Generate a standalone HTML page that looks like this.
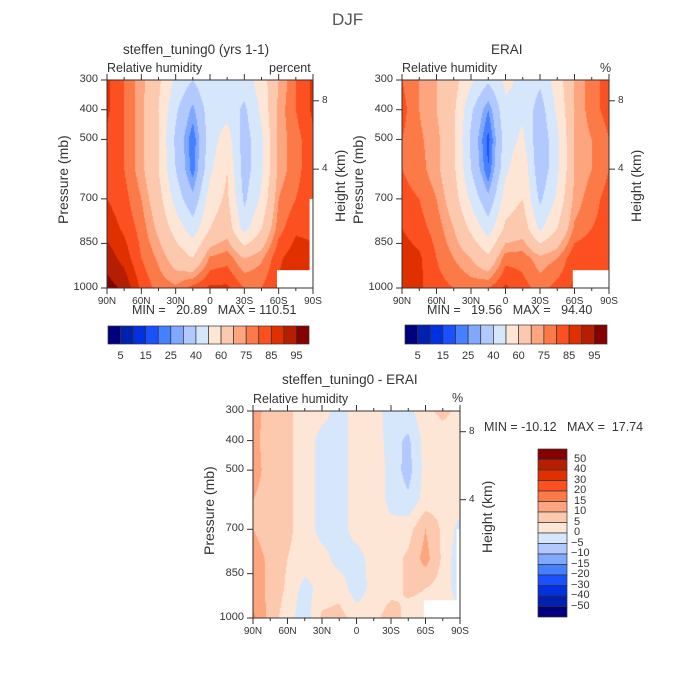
<!DOCTYPE html>
<html><head><meta charset="utf-8">
<style>
body{margin:0;background:#fff;font-family:"Liberation Sans",sans-serif;color:#333}
#root{position:relative;width:700px;height:700px;overflow:hidden}
.t{position:absolute;white-space:pre;font-size:11px;color:#333}
canvas{position:absolute}
svg{position:absolute;left:0;top:0}
</style></head><body>
<div id="root">
<div class="t" style="left:332px;top:10px;font-size:17px;color:#555">DJF</div>
<svg id="ov" width="700" height="700"></svg>
</div>
<script>
const lats=["90N","75N","60N","45N","30N","15N","0","15S","30S","45S","60S","75S","90S"];
const plevs=[300,400,500,600,700,800,900,1000];
const rhLevels=[5,10,15,20,25,30,40,50,60,70,75,80,85,90,95];
const rhLabels=[5,15,25,40,60,75,85,95];
const diffLevels=[-50,-40,-30,-20,-15,-10,-5,0,5,10,15,20,30,40,50];
const colors=["#00007f","#0020b0","#0030e0","#1a50ff","#4480ff","#80a8ff","#b2c9ff","#d6e6fb","#fee6d6","#fcc8ae","#fca57e","#fc7a48","#fc5020","#e03000","#b51e00","#860000"];
const model=[
[86,80,72,62,48,40,50,44,45,55,70,80,86],
[86,80,72,60,42,28,46,46,38,52,72,80,86],
[84,80,72,60,38,21,45,55,35,48,72,78,84],
[84,80,72,60,40,22,48,60,35,48,72,78,84],
[85,82,75,64,46,32,55,62,38,52,75,80,84],
[88,84,78,68,56,45,60,66,46,60,78,84,84],
[93,88,80,74,66,60,76,78,70,74,84,88,86],
[97,94,84,78,76,82,86,86,80,80,86,88,88]];
const erai=[
[80,75,70,64,52,42,52,48,42,55,70,78,82],
[82,75,70,62,42,25,48,48,35,52,70,78,82],
[80,76,72,62,38,18,45,52,32,48,70,75,80],
[80,77,72,62,40,20,48,58,32,48,70,75,80],
[82,80,75,65,48,32,55,60,38,52,72,78,82],
[85,82,78,70,58,45,62,66,48,60,76,80,82],
[88,86,80,75,70,62,78,78,72,75,84,85,85],
[90,86,82,80,78,80,86,82,78,82,86,82,85]];
const diff=[
[12,8,6,3,2,-2,2,3,-3,-2,4,6,4],
[12,7,6,3,-2,-2,2,4,-3,-6,2,3,3],
[12,8,6,3,-2,-2,2,4,-2,-7,2,3,3],
[10,8,6,3,-2,-2,2,4,-2,-4,2,3,3],
[10,8,6,3,-2,-2,2,3,2,3,10,4,-2],
[12,9,5,3,2,-2,-2,2,3,6,12,4,-4],
[12,9,4,-2,2,3,-3,2,3,6,5,3,-3],
[16,8,2,-3,6,7,3,3,8,3,3,2,2]];
const NS="http://www.w3.org/2000/svg";
const ov=document.getElementById('ov');
const root=document.getElementById('root');
function hex(c){return [parseInt(c.slice(1,3),16),parseInt(c.slice(3,5),16),parseInt(c.slice(5,7),16)];}
function colIdx(v,lv){let i=0;while(i<lv.length&&v>=lv[i])i++;return i;}
function line(x1,y1,x2,y2,name){const l=document.createElementNS(NS,'line');
l.setAttribute('x1',x1);l.setAttribute('y1',y1);l.setAttribute('x2',x2);l.setAttribute('y2',y2);
l.setAttribute('stroke','#333');l.setAttribute('stroke-width','1');


ov.appendChild(l);}
function rect(x,y,w,h,fill,name){const r=document.createElementNS(NS,'rect');
r.setAttribute('x',x);r.setAttribute('y',y);r.setAttribute('width',w);r.setAttribute('height',h);
r.setAttribute('fill',fill);r.setAttribute('stroke','none');


ov.appendChild(r);return r;}
function text(x,y,s,name,opt){opt=opt||{};const d=document.createElement('div');d.className='t';d.textContent=s;
d.style.left=x+'px';d.style.top=y+'px';if(opt.size)d.style.fontSize=opt.size+'px';
if(opt.rot){d.style.transform='rotate(-90deg)';d.style.transformOrigin='0 0';}


root.appendChild(d);return d;}
function panel(cfg){
 const {x0,y0,w,h,data,lv,name}=cfg;
 const xs=v=>x0+v/12*w;
 const ys=p=>y0+(p-300)/700*h;
 const cv=document.createElement('canvas');cv.width=w;cv.height=h;cv.style.left=x0+'px';cv.style.top=y0+'px';
 
 
 root.insertBefore(cv,ov);
 const ctx=cv.getContext('2d');const img=ctx.createImageData(w,h);
 const rgb=colors.map(hex);
 for(let py=0;py<h;py++){const p=300+(py+0.5)/h*700;let r=0;while(r<plevs.length-2&&p>plevs[r+1])r++;
  const fy=Math.min(1,Math.max(0,(p-plevs[r])/(plevs[r+1]-plevs[r])));
  for(let px=0;px<w;px++){const fxv=(px+0.5)/w*12;let c=Math.min(11,Math.floor(fxv));const fx=fxv-c;
   const v=(data[r][c]*(1-fx)+data[r][c+1]*fx)*(1-fy)+(data[r+1][c]*(1-fx)+data[r+1][c+1]*fx)*fy;
   const k=rgb[colIdx(v,lv)];const o=(py*w+px)*4;img.data[o]=k[0];img.data[o+1]=k[1];img.data[o+2]=k[2];img.data[o+3]=255;}}
 ctx.putImageData(img,0,0);
 rect(xs(9.9),ys(940),xs(12)-xs(9.9),ys(1000)-ys(940),'#fff',name+'-missing-mask');
 if(cfg.edgeMask)rect(xs(11.8),ys(700),xs(12)-xs(11.8),ys(1000)-ys(700),'#fff',name+'-edge-mask');
 const b=rect(x0,y0,w,h,'none',name+'-frame');b.setAttribute('stroke','#333');
 [300,400,500,700,850,1000].forEach(p=>{line(x0-6,ys(p),x0,ys(p),'y-tick');const d=text(x0-37,ys(p)-7,String(p),'y-tick-label');d.style.width='28px';d.style.textAlign='right';});
 lats.forEach((l,i)=>{line(xs(i),y0+h,xs(i),y0+h+(i%2==0?6:3),'x-tick');line(xs(i),y0,xs(i),y0-(i%2==0?6:3),'x-tick-top');
  if(i%2==0){const d=text(xs(i)-15,y0+h+8,l,'x-tick-label',{size:10});d.style.width='30px';d.style.textAlign='center';}});
 [[8,ys(370)],[4,ys(600)]].forEach(([k,y])=>{line(x0+w,y,x0+w+6,y,'height-tick');text(x0+w+9,y-6,String(k),'height-tick-label',{size:10});});
 text(x0-52,y0+h/2+40,'Pressure (mb)','y-axis-title',{rot:true,size:14});
 text(x0+w+19,y0+h/2+38,'Height (km)','height-axis-title',{rot:true,size:14});
 text(x0,y0-19,'Relative humidity','variable-label',{size:12.5});
}
function hbar(x0,y0,w,h,labels,name){
 const n=colors.length;const cw=w/n;
 colors.forEach((c,i)=>{const r=rect(x0+i*cw,y0,cw,h,c,name+'-swatch');r.setAttribute('stroke','#333');r.setAttribute('stroke-width','0.7');});
 labels.forEach(v=>{const i=rhLevels.indexOf(v)+1;const d=text(x0+i*cw-15,y0+h+6,String(v),name+'-label',{size:11});d.style.width='30px';d.style.textAlign='center';});
}
panel({x0:107,y0:80,w:206,h:208,data:model,lv:rhLevels,name:'model-panel',edgeMask:true});
text(123,42,'steffen_tuning0 (yrs 1-1)','model-panel-title',{size:13.5});
text(269,61,'percent','units-label',{size:12.5});
text(132,303,'MIN =   20.89   MAX = 110.51','model-min-max',{size:12.5});
hbar(108,326,201,18,rhLabels,'model-colorbar');
panel({x0:402,y0:80,w:207,h:208,data:erai,lv:rhLevels,name:'erai-panel'});
text(491,42,'ERAI','erai-panel-title',{size:13.5});
text(600,61,'%','erai-units',{size:12.5});
text(427,303,'MIN =   19.56   MAX =   94.40','erai-min-max',{size:12.5});
hbar(405,325,202,19,rhLabels,'erai-colorbar');
panel({x0:253,y0:411,w:207,h:207,data:diff,lv:diffLevels,name:'diff-panel',edgeMask:true});
text(282,372,'steffen_tuning0 - ERAI','diff-panel-title',{size:13.5});
text(452,391,'%','diff-units',{size:12.5});
text(484,420,'MIN = -10.12   MAX =  17.74','diff-min-max',{size:12.5});
(function(){const x0=538,y0=449,w=29,h=168,n=colors.length,ch=h/n;
 colors.slice().reverse().forEach((c,i)=>{const r=rect(x0,y0+i*ch,w,ch,c,'diff-colorbar-swatch');r.setAttribute('stroke','#333');r.setAttribute('stroke-width','0.7');});
 diffLevels.slice().reverse().forEach((v,i)=>{const y=y0+(i+1)*ch;text(x0+w+4,y-7,(v<0?'\u2212':' ')+Math.abs(v),'diff-colorbar-label',{size:11});});
})();
</script>
</body></html>
